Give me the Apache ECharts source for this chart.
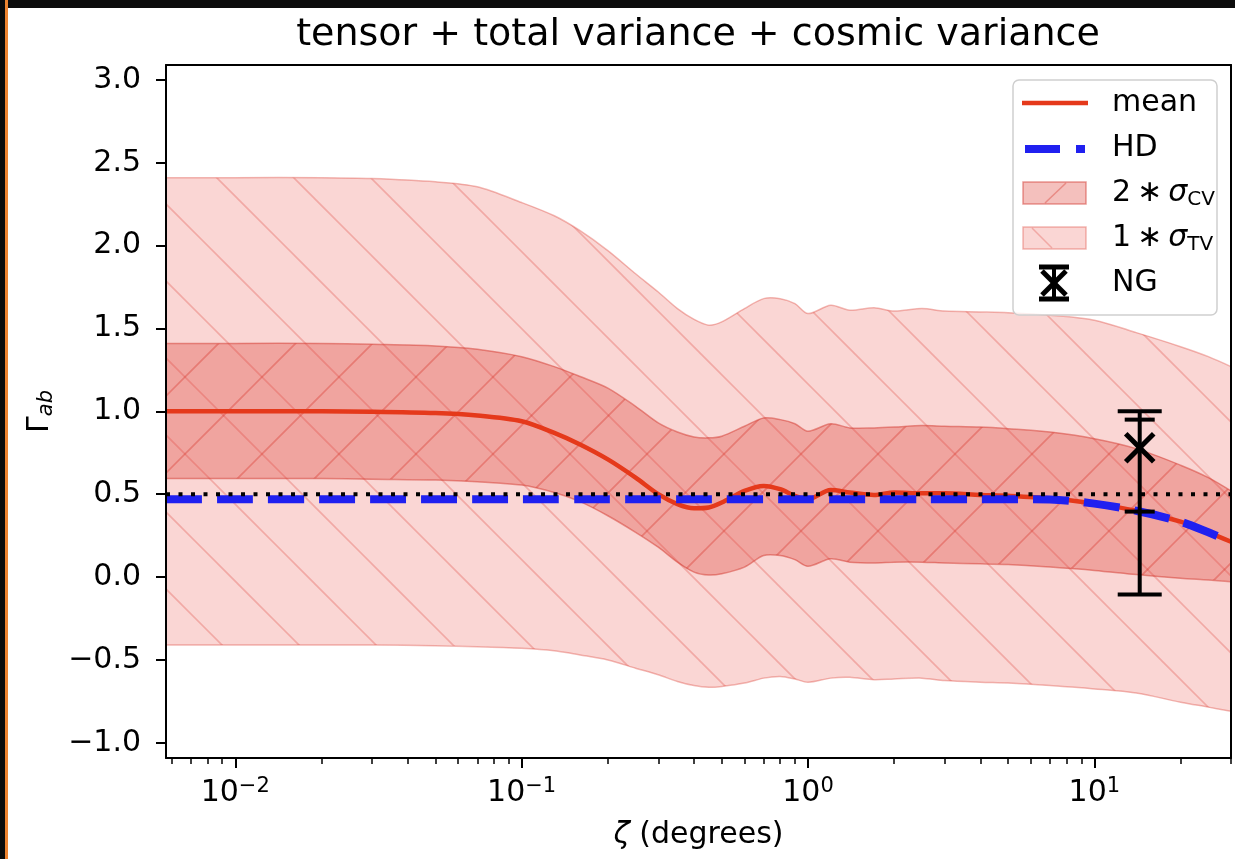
<!DOCTYPE html>
<html>
<head>
<meta charset="utf-8">
<script src="https://cdn.jsdelivr.net/npm/echarts@6.0.0/dist/echarts.min.js"></script>
<style>
html, body { margin: 0; padding: 0; background: #0c0c0c; width: 1235px; height: 859px; overflow: hidden; }
#edge { position: absolute; left: 5px; top: 0; width: 3px; height: 859px; background: #ee8430; }
#main { position: absolute; left: 8px; top: 8px; width: 1227px; height: 851px; background: #fff; }
</style>
</head>
<body>
<div id="edge"></div>
<div id="main"></div>
<script>
// angular separation (degrees)
var zeta = [0.00573, 0.01, 0.02, 0.03, 0.05, 0.07, 0.1, 0.13, 0.16, 0.2, 0.25, 0.3, 0.35, 0.4, 0.45, 0.5,
  0.6, 0.7, 0.8, 0.9, 1.0, 1.2, 1.4, 1.7, 2, 2.5, 3, 4, 5, 7, 10, 14, 20, 25, 30];
var mean = [1.0, 1.0, 1.0, 0.998, 0.99, 0.975, 0.94, 0.87, 0.80, 0.71, 0.60, 0.50, 0.44, 0.415, 0.42, 0.45,
  0.52, 0.55, 0.53, 0.49, 0.47, 0.525, 0.51, 0.495, 0.51, 0.505, 0.505, 0.495, 0.49, 0.475, 0.443, 0.40, 0.334, 0.27, 0.213];
var hd = [0.47, 0.47, 0.47, 0.47, 0.47, 0.47, 0.47, 0.47, 0.47, 0.47, 0.47, 0.47, 0.47, 0.47, 0.47, 0.47,
  0.47, 0.47, 0.47, 0.47, 0.47, 0.47, 0.47, 0.47, 0.47, 0.47, 0.47, 0.47, 0.47, 0.468, 0.443, 0.40, 0.334, 0.27, 0.213];
var cvHi = [1.41, 1.41, 1.41, 1.405, 1.395, 1.375, 1.33, 1.27, 1.21, 1.14, 1.03, 0.93, 0.875, 0.845, 0.84, 0.85,
  0.91, 0.96, 0.95, 0.925, 0.88, 0.925, 0.90, 0.90, 0.905, 0.915, 0.91, 0.905, 0.895, 0.875, 0.835, 0.775, 0.675, 0.60, 0.52];
var cvLo = [0.595, 0.595, 0.595, 0.59, 0.585, 0.575, 0.555, 0.51, 0.455, 0.37, 0.27, 0.18, 0.09, 0.03, 0.012, 0.02,
  0.06, 0.13, 0.13, 0.105, 0.065, 0.11, 0.09, 0.085, 0.09, 0.09, 0.085, 0.08, 0.075, 0.06, 0.04, 0.015, -0.008, -0.018, -0.028];
var tvHi = [2.41, 2.41, 2.41, 2.405, 2.385, 2.355, 2.26, 2.18, 2.09, 1.97, 1.83, 1.72, 1.62, 1.555, 1.52, 1.54,
  1.62, 1.68, 1.68, 1.65, 1.59, 1.64, 1.61, 1.625, 1.605, 1.62, 1.605, 1.60, 1.595, 1.58, 1.55, 1.475, 1.39, 1.33, 1.27];
var tvLo = [-0.41, -0.41, -0.41, -0.41, -0.415, -0.42, -0.43, -0.445, -0.47, -0.50, -0.55, -0.59, -0.63, -0.655, -0.665, -0.66,
  -0.64, -0.61, -0.60, -0.615, -0.635, -0.61, -0.605, -0.62, -0.615, -0.61, -0.625, -0.635, -0.64, -0.655, -0.675, -0.70, -0.755, -0.785, -0.81];

// NG point with its two error ranges
var ngZeta = [14.4];
var ngVal = [0.78];
var ngLo = [-0.105];
var ngHi = [1.0];
var ngLoIn = [0.395];
var ngHiIn = [0.95];

var refLevel = 0.5;
var xMin = 0.00573, xMax = 30;
var yMin = -1.092, yMax = 3.09;
var yTicks = [-1, -0.5, 0, 0.5, 1, 1.5, 2, 2.5, 3];
var xMajor = [0.01, 0.1, 1, 10];
var xMinor = [0.006, 0.007, 0.008, 0.009, 0.02, 0.03, 0.04, 0.05, 0.06, 0.07, 0.08, 0.09,
  0.2, 0.3, 0.4, 0.5, 0.6, 0.7, 0.8, 0.9, 2, 3, 4, 5, 6, 7, 8, 9, 20, 30];

var font = 'DejaVu Sans';
var red = '#e5391b', blue = '#2020f0';
var tvFill = 'rgba(230,70,60,0.22)', tvInk = 'rgba(222,66,56,0.30)', tvEdge = 'rgba(222,70,60,0.38)';
var cvFill = 'rgba(220,60,50,0.32)', cvInk = 'rgba(212,52,42,0.38)', cvEdge = 'rgba(212,58,48,0.5)';

// hatch tile, 45 degree lines every 77px
function hatch(bg, ink, dir, phase) {
  var n = 77, c = document.createElement('canvas');
  c.width = n; c.height = n;
  var g = c.getContext('2d');
  g.fillStyle = bg; g.fillRect(0, 0, n, n);
  g.strokeStyle = ink; g.lineWidth = 1.6;
  g.beginPath();
  for (var k = -2; k <= 2; k++) {
    var o = phase + k * n;
    if (dir === '\\') { g.moveTo(o - 10, -10); g.lineTo(o + n + 10, n + 10); }
    else { g.moveTo(o + 10, -10); g.lineTo(o - n - 10, n + 10); }
  }
  g.stroke();
  return { image: c, repeat: 'repeat' };
}

// smooth path through pixel points (flat tangent at the two ends)
function curve(pts, s, cmd) {
  var n = pts.length, cps = [], i;
  for (i = 0; i < n; i++) {
    var p = pts[i];
    if (i === 0 || i === n - 1) { cps.push([p, p]); continue; }
    var a = pts[i - 1], b = pts[i + 1];
    var vx = b[0] - a[0], vy = b[1] - a[1];
    var d0 = Math.hypot(p[0] - a[0], p[1] - a[1]), d1 = Math.hypot(b[0] - p[0], b[1] - p[1]);
    var t = (d0 + d1) || 1;
    cps.push([[p[0] - vx * s * d0 / t, p[1] - vy * s * d0 / t], [p[0] + vx * s * d1 / t, p[1] + vy * s * d1 / t]]);
  }
  var f = function (q) { return q[0].toFixed(2) + ' ' + q[1].toFixed(2); };
  var d = cmd + f(pts[0]);
  for (i = 1; i < n; i++) {
    d += ' C' + f(cps[i - 1][1]) + ' ' + f(cps[i][0]) + ' ' + f(pts[i]);
  }
  return d;
}

var chart = echarts.init(document.getElementById('main'));

// filled band between lo and hi, drawn through the axes with api.coord
function bandSeries(name, lo, hi, fill, edge, z) {
  return {
    type: 'custom', name: name, z: z, silent: true,
    data: [[zeta[0], lo[0]]],
    renderItem: function (params, api) {
      var up = zeta.map(function (zv, i) { return api.coord([zv, hi[i]]); });
      var dn = zeta.map(function (zv, i) { return api.coord([zv, lo[i]]); }).reverse();
      var area = curve(up, 0.3, 'M') + ' ' + curve(dn, 0.3, 'L') + ' Z';
      return { type: 'group', children: [
        { type: 'path', shape: { pathData: area }, style: { fill: fill, stroke: null } },
        { type: 'path', shape: { pathData: curve(up, 0.3, 'M') }, style: { fill: null, stroke: edge, lineWidth: 1.5 } },
        { type: 'path', shape: { pathData: curve(dn, 0.3, 'M') }, style: { fill: null, stroke: edge, lineWidth: 1.5 } }
      ] };
    }
  };
}

function pairs(ys) { return zeta.map(function (z, i) { return [z, ys[i]]; }); }

var supRich = {
  b: { fontSize: 30, lineHeight: 34, fontFamily: font, color: '#000' },
  s: { fontSize: 21, lineHeight: 24, verticalAlign: 'top', fontFamily: font, color: '#000' }
};
var legRich = {
  n: { fontFamily: font, fontSize: 30, lineHeight: 34, fill: '#000' },
  it: { fontFamily: font, fontSize: 30, lineHeight: 34, fontStyle: 'italic', fill: '#000' },
  sub: { fontFamily: font, fontSize: 20, lineHeight: 24, verticalAlign: 'bottom', fill: '#000' }
};

var option = {
  animation: false,
  title: {
    text: 'tensor + total variance + cosmic variance',
    left: 690, textAlign: 'center', top: 8, padding: 0,
    textStyle: { fontFamily: font, fontSize: 38, fontWeight: 'normal', color: '#000' }
  },
  grid: { left: 158, right: 4, top: 57, bottom: 101 },
  xAxis: [{
    type: 'log', min: xMin, max: xMax, position: 'bottom', z: 10,
    name: '{it|ζ} (degrees)', nameLocation: 'middle', nameGap: 62,
    nameTextStyle: {
      fontFamily: font, fontSize: 30, color: '#000',
      rich: { it: { fontStyle: 'italic', fontSize: 30, fontFamily: font, color: '#000' } }
    },
    axisLine: { show: true, onZero: false, lineStyle: { color: '#000', width: 2 } },
    axisTick: { show: true, customValues: xMajor, length: 10, lineStyle: { color: '#000', width: 2 } },
    axisLabel: {
      customValues: xMajor, margin: 18,
      formatter: function (v) {
        var e = Math.round(Math.log10(v));
        return '{b|10}{s|' + String(e).replace('-', '\u2212') + '}';
      },
      rich: supRich
    },
    splitLine: { show: false }
  }, {
    type: 'log', min: xMin, max: xMax, position: 'bottom', z: 10,
    axisLine: { show: false, onZero: false },
    axisTick: { show: true, customValues: xMinor, length: 6, lineStyle: { color: '#000', width: 1.5 } },
    axisLabel: { show: false },
    splitLine: { show: false }
  }, {
    type: 'log', min: xMin, max: xMax, position: 'top', z: 10,
    axisLine: { show: true, onZero: false, lineStyle: { color: '#000', width: 2 } },
    axisTick: { show: false }, axisLabel: { show: false }, splitLine: { show: false }
  }],
  yAxis: [{
    type: 'value', min: yMin, max: yMax, position: 'left', z: 10,
    name: '{g|Γ}{sub|ab}', nameLocation: 'middle', nameGap: 108, nameRotate: 90,
    nameTextStyle: {
      rich: {
        g: { fontSize: 30, lineHeight: 34, fontFamily: font, color: '#000' },
        sub: { fontSize: 21, lineHeight: 24, verticalAlign: 'bottom', fontStyle: 'italic', fontFamily: font, color: '#000' }
      }
    },
    axisLine: { show: true, onZero: false, lineStyle: { color: '#000', width: 2 } },
    axisTick: { show: true, customValues: yTicks, length: 10, lineStyle: { color: '#000', width: 2 } },
    axisLabel: {
      customValues: yTicks, margin: 25, fontFamily: font, fontSize: 30, color: '#000',
      formatter: function (v) { return v.toFixed(1).replace('-', '\u2212'); }
    },
    splitLine: { show: false }
  }, {
    type: 'value', min: yMin, max: yMax, position: 'right', z: 10,
    axisLine: { show: true, onZero: false, lineStyle: { color: '#000', width: 2 } },
    axisTick: { show: false }, axisLabel: { show: false }, splitLine: { show: false }
  }],
  series: [
    bandSeries('1σTV', tvLo, tvHi, hatch(tvFill, tvInk, '\\', 39), tvEdge, 1),
    bandSeries('2σCV', cvLo, cvHi, hatch(cvFill, cvInk, '/', 7), cvEdge, 2),
    {
      type: 'line', name: 'mean', data: pairs(mean), symbol: 'none', smooth: 0.3, z: 3,
      lineStyle: { color: red, width: 4.5 }
    }, {
      type: 'line', name: 'HD', data: pairs(hd), symbol: 'none', smooth: 0.3, z: 4,
      lineStyle: { color: blue, width: 8, type: [36, 15], cap: 'butt' }
    }, {
      type: 'line', name: 'ref', data: [[xMin, refLevel], [xMax, refLevel]], symbol: 'none', z: 5,
      lineStyle: { color: '#000', width: 4, type: [4, 8.5] }
    }, {
      type: 'custom', name: 'NG', z: 6,
      data: ngZeta.map(function (z, i) { return [z, ngVal[i], ngLo[i], ngHi[i], ngLoIn[i], ngHiIn[i]]; }),
      renderItem: function (params, api) {
        var x = api.value(0);
        var c = api.coord([x, api.value(1)]);
        var lo = api.coord([x, api.value(2)]), hi = api.coord([x, api.value(3)]);
        var lo2 = api.coord([x, api.value(4)]), hi2 = api.coord([x, api.value(5)]);
        function seg(x1, y1, x2, y2, w) {
          return { type: 'line', shape: { x1: x1, y1: y1, x2: x2, y2: y2 }, style: { stroke: '#000', lineWidth: w } };
        }
        return { type: 'group', children: [
          seg(c[0], hi[1], c[0], lo[1], 4),
          seg(c[0] - 22, hi[1], c[0] + 22, hi[1], 4),
          seg(c[0] - 22, lo[1], c[0] + 22, lo[1], 4),
          seg(c[0] - 15, hi2[1], c[0] + 15, hi2[1], 4),
          seg(c[0] - 15, lo2[1], c[0] + 15, lo2[1], 4),
          seg(c[0] - 14, c[1] - 14, c[0] + 14, c[1] + 14, 5),
          seg(c[0] - 14, c[1] + 14, c[0] + 14, c[1] - 14, 5)
        ] };
      }
    }
  ],
  graphic: [
    { type: 'rect', z: 100, shape: { x: 1005, y: 72, width: 204, height: 235, r: 6 },
      style: { fill: 'rgba(255,255,255,0.8)', stroke: '#cfcfcf', lineWidth: 1.5 } },
    { type: 'line', z: 101, shape: { x1: 1014, y1: 95, x2: 1080, y2: 95 }, style: { stroke: red, lineWidth: 4.5 } },
    { type: 'line', z: 101, shape: { x1: 1017, y1: 141, x2: 1077, y2: 141 }, style: { stroke: blue, lineWidth: 8, lineDash: [35, 16] } },
    { type: 'rect', z: 101, shape: { x: 1015, y: 174, width: 63, height: 22 }, style: { fill: cvFill, stroke: cvEdge, lineWidth: 1.5 } },
    { type: 'line', z: 102, shape: { x1: 1037, y1: 195, x2: 1058, y2: 175 }, style: { stroke: cvInk, lineWidth: 1.6 } },
    { type: 'rect', z: 101, shape: { x: 1015, y: 219, width: 63, height: 22 }, style: { fill: tvFill, stroke: tvEdge, lineWidth: 1.5 } },
    { type: 'line', z: 102, shape: { x1: 1024, y1: 220, x2: 1044, y2: 240 }, style: { stroke: tvInk, lineWidth: 1.6 } },
    { type: 'line', z: 102, shape: { x1: 1031, y1: 259, x2: 1061, y2: 259 }, style: { stroke: '#000', lineWidth: 5 } },
    { type: 'line', z: 102, shape: { x1: 1031, y1: 291, x2: 1061, y2: 291 }, style: { stroke: '#000', lineWidth: 5 } },
    { type: 'line', z: 102, shape: { x1: 1046, y1: 259, x2: 1046, y2: 291 }, style: { stroke: '#000', lineWidth: 4 } },
    { type: 'line', z: 102, shape: { x1: 1034, y1: 263, x2: 1058, y2: 287 }, style: { stroke: '#000', lineWidth: 5 } },
    { type: 'line', z: 102, shape: { x1: 1058, y1: 263, x2: 1034, y2: 287 }, style: { stroke: '#000', lineWidth: 5 } },
    { type: 'text', z: 102, x: 1104, y: 95, style: { text: 'mean', fontFamily: font, fontSize: 30, fill: '#000', verticalAlign: 'middle' } },
    { type: 'text', z: 102, x: 1104, y: 140, style: { text: 'HD', fontFamily: font, fontSize: 30, fill: '#000', verticalAlign: 'middle' } },
    { type: 'text', z: 102, x: 1104, y: 185, style: { text: '{n|2\u2009\u2217\u2009}{it|σ}{sub|CV}', verticalAlign: 'middle', rich: legRich } },
    { type: 'text', z: 102, x: 1104, y: 230, style: { text: '{n|1\u2009\u2217\u2009}{it|σ}{sub|TV}', verticalAlign: 'middle', rich: legRich } },
    { type: 'text', z: 102, x: 1104, y: 275, style: { text: 'NG', fontFamily: font, fontSize: 30, fill: '#000', verticalAlign: 'middle' } }
  ]
};

chart.setOption(option);
</script>
</body>
</html>
